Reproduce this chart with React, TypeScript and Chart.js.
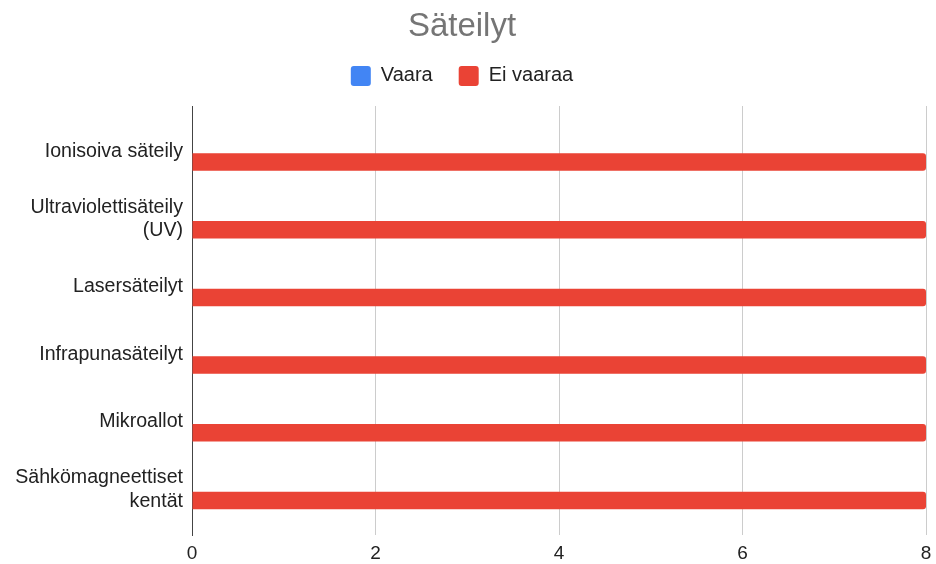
import { useEffect, useRef } from 'react';
import { Chart, registerables } from 'chart.js';

Chart.register(...registerables);

const titleText = 'Säteilyt';
const categories: (string | string[])[] = [
  'Ionisoiva säteily',
  ['Ultraviolettisäteily', '(UV)'],
  'Lasersäteilyt',
  'Infrapunasäteilyt',
  'Mikroallot',
  ['Sähkömagneettiset', 'kentät'],
];
const seriesNames = ['Vaara', 'Ei vaaraa'];
const vaara = [0, 0, 0, 0, 0, 0];
const eiVaaraa = [8, 8, 8, 8, 8, 8];
const xMin = 0;
const xMax = 8;
const xStep = 2;

const FONT = '"Liberation Sans", Arial, sans-serif';

export default function App() {
  const ref = useRef<HTMLCanvasElement>(null);

  useEffect(() => {
    const canvas = ref.current;
    if (!canvas) return;
    const chart = new Chart(canvas, {
      type: 'bar',
      data: {
        datasets: [
          {
            label: seriesNames[0],
            data: vaara.map((v, i) => ({ x: v, y: i })),
            backgroundColor: '#4285F4',
            borderWidth: 0,
            borderRadius: 3,
            categoryPercentage: 0.635,
            barPercentage: 0.814,
          },
          {
            label: seriesNames[1],
            data: eiVaaraa.map((v, i) => ({ x: v, y: i })),
            backgroundColor: '#EA4335',
            borderWidth: 0,
            borderRadius: 3,
            categoryPercentage: 0.635,
            barPercentage: 0.814,
          },
        ],
      },
      options: {
        indexAxis: 'y',
        animation: false,
        responsive: false,
        layout: { padding: { left: -2, right: 10, top: 0, bottom: 0 } },
        plugins: {
          title: {
            display: true,
            text: titleText,
            color: '#757575',
            font: { family: FONT, size: 33, weight: 'normal', lineHeight: 0.8 },
            padding: { top: 13.5, bottom: 0 },
          },
          legend: {
            display: true,
            position: 'top',
            labels: {
              boxWidth: 20,
              boxHeight: 20,
              padding: 26,
              color: '#222222',
              font: { family: FONT, size: 20 },
              useBorderRadius: true,
              borderRadius: 3,
            },
          },
          tooltip: { enabled: false },
        },
        scales: {
          x: {
            type: 'linear',
            position: 'bottom',
            min: xMin,
            max: xMax,
            offset: false,
            ticks: {
              stepSize: xStep,
              color: '#222222',
              font: { family: FONT, size: 19 },
              padding: 0,
            },
            grid: {
              color: '#cccccc',
              drawTicks: true,
              tickLength: 7,
              tickColor: 'rgba(0,0,0,0)',
              lineWidth: 1,
              offset: false,
            },
            border: { display: false },
            afterFit: (s: any) => {
              s.height = 29;
            },
          },
          x2: {
            type: 'linear',
            position: 'top',
            display: true,
            offset: false,
            grid: { display: false, drawTicks: false },
            border: { display: false },
            ticks: { display: false },
            afterFit: (s: any) => {
              s.height = 10.1;
            },
          },
          y: {
            type: 'linear',
            position: 'left',
            min: -0.668,
            max: categories.length - 1 + 0.668,
            reverse: true,
            offset: false,
            bounds: 'data',
            afterBuildTicks: (s: any) => {
              s.ticks = categories.map((_, i) => ({ value: i }));
            },
            ticks: {
              autoSkip: false,
              color: '#222222',
              font: { family: FONT, size: 19.6 },
              padding: 9,
              callback: (value: any) => categories[Number(value)] ?? '',
            },
            grid: { display: false, drawTicks: false, offset: false },
            border: { display: true, color: '#444444', width: 1 },
            afterFit: (s: any) => {
              s.width = 194;
            },
          },
        },
      } as any,
    });
    return () => chart.destroy();
  }, []);

  return (
    <canvas
      ref={ref}
      width={936}
      height={564}
      style={{ position: 'absolute', left: 0, top: 0, width: 936, height: 564 }}
    />
  );
}
